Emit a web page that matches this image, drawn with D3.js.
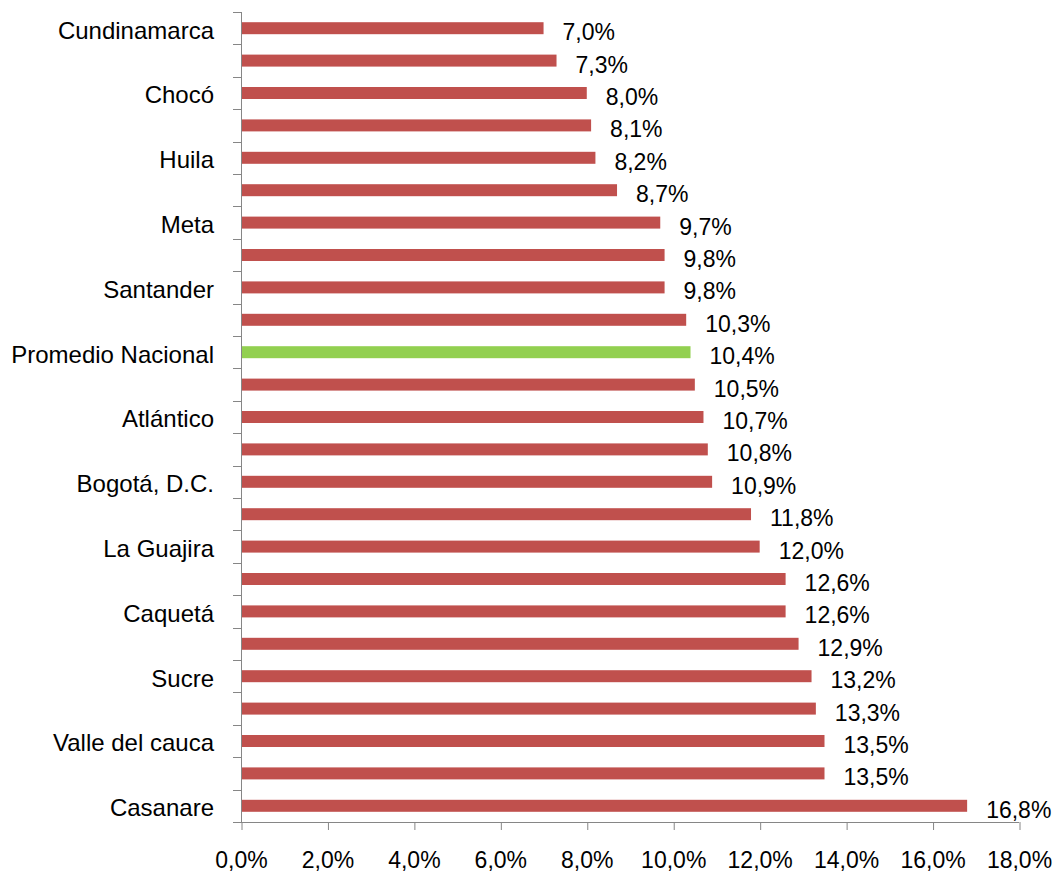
<!DOCTYPE html>
<html>
<head>
<meta charset="utf-8"/>
<title>Promedio por departamento</title>
<script src="https://d3js.org/d3.v7.min.js"></script>
<style>
    body { margin: 0; background: #fff; }
    text { font-family: "Liberation Sans", Arial, sans-serif; fill: #000; }
    .axis path, .axis line { stroke: #868686; }
</style>
</head>
<body>
<div id="chart"></div>
<script>
// only every other category is labelled in the chart
var labels = ["Cundinamarca", "", "Chocó", "", "Huila", "", "Meta", "", "Santander", "",
              "Promedio Nacional", "", "Atlántico", "", "Bogotá, D.C.", "", "La Guajira", "",
              "Caquetá", "", "Sucre", "", "Valle del cauca", "", "Casanare"];
var values = [7.0, 7.3, 8.0, 8.1, 8.2, 8.7, 9.7, 9.8, 9.8, 10.3,
              10.4, 10.5, 10.7, 10.8, 10.9, 11.8, 12.0, 12.6, 12.6, 12.9,
              13.2, 13.3, 13.5, 13.5, 16.8];
var highlight = "Promedio Nacional";
var xTicks = [0, 2, 4, 6, 8, 10, 12, 14, 16, 18];

var width = 1060, height = 873;
var margin = {top: 12, right: 41, bottom: 51, left: 241};

var svg = d3.select("#chart").append("svg")
    .attr("width", width)
    .attr("height", height);

var x = d3.scaleLinear()
    .domain([0, 18])
    .range([margin.left, width - margin.right]);

var idx = d3.range(values.length);
var y = d3.scaleBand()
    .domain(idx)
    .range([margin.top, height - margin.bottom])
    .paddingInner(0.63)
    .paddingOuter(0.315);

var fmt = function(d){ return d.toFixed(1).replace(".", ",") + "%"; };

// bars
svg.selectAll(".bar")
    .data(idx)
    .enter()
    .append("rect")
    .attr("class", "bar")
    .attr("x", x(0))
    .attr("y", function(i){ return y(i); })
    .attr("width", function(i){ return x(values[i]) - x(0); })
    .attr("height", y.bandwidth())
    .attr("fill", function(i){ return labels[i] == highlight ? "#92D050" : "#C0504D"; });

// value labels
svg.selectAll(".val")
    .data(idx)
    .enter()
    .append("text")
    .attr("class", "val")
    .attr("x", function(i){ return x(values[i]) + 19; })
    .attr("y", function(i){ return y(i) + y.bandwidth() / 2 + 12; })
    .style("font-size", "23px")
    .text(function(i){ return fmt(values[i]); });

// x axis
var xAxis = d3.axisBottom(x)
    .tickValues(xTicks)
    .tickSize(8)
    .tickPadding(22)
    .tickFormat(fmt);

var gx = svg.append("g")
    .attr("class", "axis")
    .attr("transform", "translate(0," + (height - margin.bottom) + ")")
    .call(xAxis);
gx.select(".domain").attr("d", "M" + x(0) + ",0.5H" + x(18));
gx.selectAll("text").style("font-size", "23px").style("fill", "#000");
gx.selectAll("line").attr("transform", "translate(0.5,0)");

// y axis: ticks sit on band boundaries
var step = y.step();
var y0 = margin.top, y1 = height - margin.bottom;
var gy = svg.append("g").attr("class", "axis");
gy.append("line")
    .attr("x1", x(0) + 0.5).attr("x2", x(0) + 0.5)
    .attr("y1", y0).attr("y2", y1);
gy.selectAll(".tick")
    .data(d3.range(values.length + 1))
    .enter()
    .append("line")
    .attr("x1", x(0) - 8).attr("x2", x(0) + 0.5)
    .attr("y1", function(k){ return Math.round(y0 + k * step) + 0.5; })
    .attr("y2", function(k){ return Math.round(y0 + k * step) + 0.5; });

gy.selectAll(".cat")
    .data(idx.filter(function(i){ return labels[i] != ""; }))
    .enter()
    .append("text")
    .attr("class", "cat")
    .attr("x", x(0) - 27)
    .attr("y", function(i){ return y(i) + y.bandwidth() / 2 + 2; })
    .attr("dy", "0.35em")
    .attr("text-anchor", "end")
    .style("font-size", "24px")
    .text(function(i){ return labels[i]; });
</script>
</body>
</html>
